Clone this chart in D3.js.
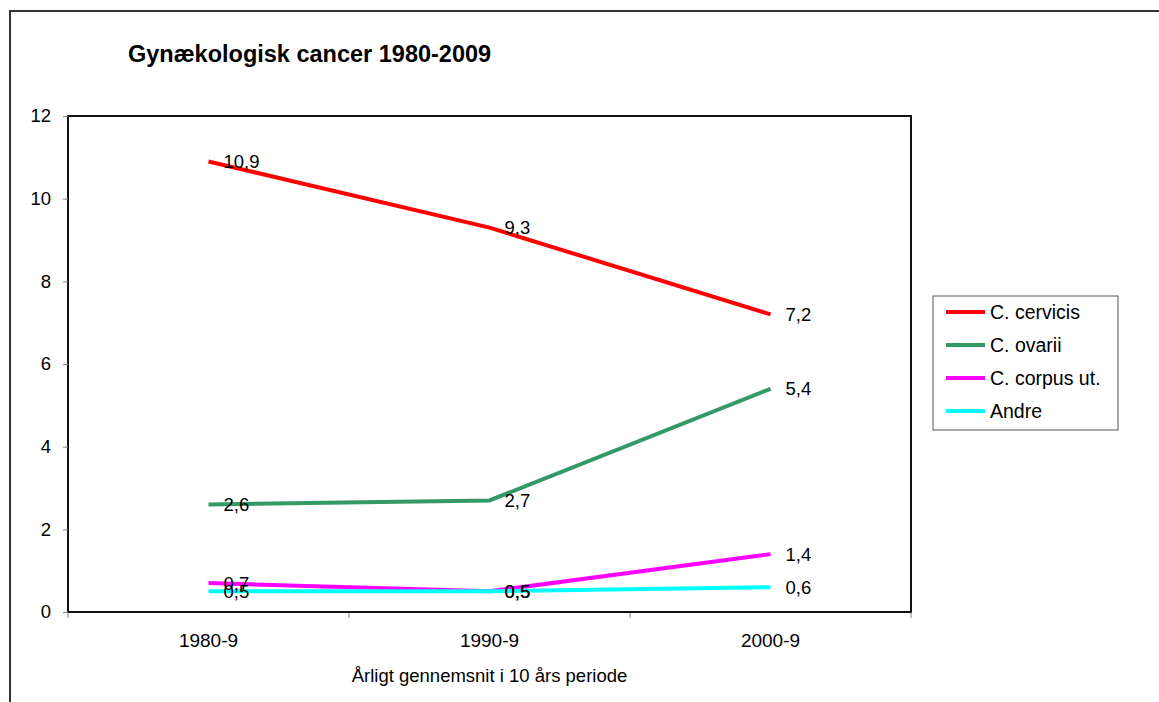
<!DOCTYPE html>
<html>
<head>
<meta charset="utf-8">
<script src="https://cdn.jsdelivr.net/npm/d3@7"></script>
<style>
  body { margin: 0; background: #fff; }
  text { font-family: "Liberation Sans", Arial, sans-serif; fill: #000; }
</style>
</head>
<body>
<script>
// data
var periods = ["1980-9", "1990-9", "2000-9"];
var seriesNames = ["C. cervicis", "C. ovarii", "C. corpus ut.", "Andre"];
var cervicis = [10.9, 9.3, 7.2];
var ovarii = [2.6, 2.7, 5.4];
var corpus = [0.7, 0.5, 1.4];
var andre = [0.5, 0.5, 0.6];
var yTicks = [0, 2, 4, 6, 8, 10, 12];
var colors = ["#ff0000", "#339966", "#ff00ff", "#00ffff"];

var series = [cervicis, ovarii, corpus, andre].map(function(v, i) {
  return { name: seriesNames[i], color: colors[i], values: v };
});

var W = 1159, H = 702;
var margin = {top: 116, right: 248, bottom: 90, left: 68},
    width = W - margin.left - margin.right,
    height = H - margin.top - margin.bottom;

var svg = d3.select("body").append("svg")
    .attr("width", W)
    .attr("height", H);

// outer chart border (runs off the right/bottom edge)
svg.append("rect")
    .attr("x", 10).attr("y", 11)
    .attr("width", W + 20).attr("height", H + 20)
    .attr("fill", "none")
    .attr("stroke", "#333")
    .attr("stroke-width", 2);

// title
svg.append("text")
    .attr("x", 128).attr("y", 62)
    .style("font-size", "23.5px")
    .style("font-weight", "bold")
    .text("Gynækologisk cancer 1980-2009");

var g = svg.append("g")
    .attr("transform", "translate(" + margin.left + "," + margin.top + ")");

var x = d3.scaleBand().domain(periods).range([0, width]);
var y = d3.scaleLinear().domain([0, 12]).range([height, 0]);

// plot area box
g.append("rect")
    .attr("width", width).attr("height", height)
    .attr("fill", "none")
    .attr("stroke", "#111")
    .attr("stroke-width", 2);

// y axis
var yAxis = g.append("g")
    .call(d3.axisLeft(y).tickValues(yTicks).tickSize(5).tickPadding(12));
yAxis.select(".domain").remove();
yAxis.selectAll(".tick line").attr("stroke", "#808080");
yAxis.selectAll(".tick text")
    .style("font-size", "18.5px")
    .style("font-family", "Liberation Sans, Arial, sans-serif");

// x axis: labels at band centres, tick marks at band edges
var xAxis = g.append("g")
    .attr("transform", "translate(0," + height + ")")
    .call(d3.axisBottom(x).tickSize(0).tickPadding(22));
xAxis.select(".domain").remove();
xAxis.selectAll(".tick text")
    .style("font-size", "19px")
    .style("font-family", "Liberation Sans, Arial, sans-serif");

var edges = periods.map(function(p) { return x(p); }).concat([width]);
g.selectAll(".xedge")
    .data(edges)
  .enter().append("line")
    .attr("class", "xedge")
    .attr("x1", function(d) { return d; })
    .attr("x2", function(d) { return d; })
    .attr("y1", height)
    .attr("y2", height + 6)
    .attr("stroke", "#808080");

// bottom axis line on top of the box
g.append("line")
    .attr("x1", 0).attr("x2", width)
    .attr("y1", height).attr("y2", height)
    .attr("stroke", "#111").attr("stroke-width", 2);

// x axis title
svg.append("text")
    .attr("x", margin.left + width / 2)
    .attr("y", 682)
    .attr("text-anchor", "middle")
    .style("font-size", "18.5px")
    .text("Årligt gennemsnit i 10 års periode");

var line = d3.line()
    .x(function(d, i) { return x(periods[i]) + x.bandwidth() / 2; })
    .y(function(d) { return y(d); });

series.forEach(function(s) {
  g.append("path")
      .datum(s.values)
      .attr("fill", "none")
      .attr("stroke", s.color)
      .attr("stroke-width", 4)
      .attr("d", line);
});

// data labels
var fmt = function(v) { return d3.format(".1f")(v).replace(".", ","); };
series.forEach(function(s) {
  g.selectAll(null)
      .data(s.values)
    .enter().append("text")
      .attr("x", function(d, i) { return x(periods[i]) + x.bandwidth() / 2 + 15; })
      .attr("y", function(d) { return y(d); })
      .attr("dy", "0.35em")
      .style("font-size", "18.5px")
      .text(fmt);
});

// legend
var legend = svg.append("g").attr("transform", "translate(933,296)");
legend.append("rect")
    .attr("width", 185).attr("height", 134)
    .attr("fill", "#fff")
    .attr("stroke", "#555")
    .attr("stroke-width", 1);

var items = legend.selectAll(".item")
    .data(series)
  .enter().append("g")
    .attr("class", "item")
    .attr("transform", function(d, i) { return "translate(0," + (16 + i * 33) + ")"; });
items.append("line")
    .attr("x1", 13).attr("x2", 52)
    .attr("stroke", function(d) { return d.color; })
    .attr("stroke-width", 4);
items.append("text")
    .attr("x", 57)
    .attr("dy", "0.35em")
    .style("font-size", "19.5px")
    .text(function(d) { return d.name; });
</script>
</body>
</html>
